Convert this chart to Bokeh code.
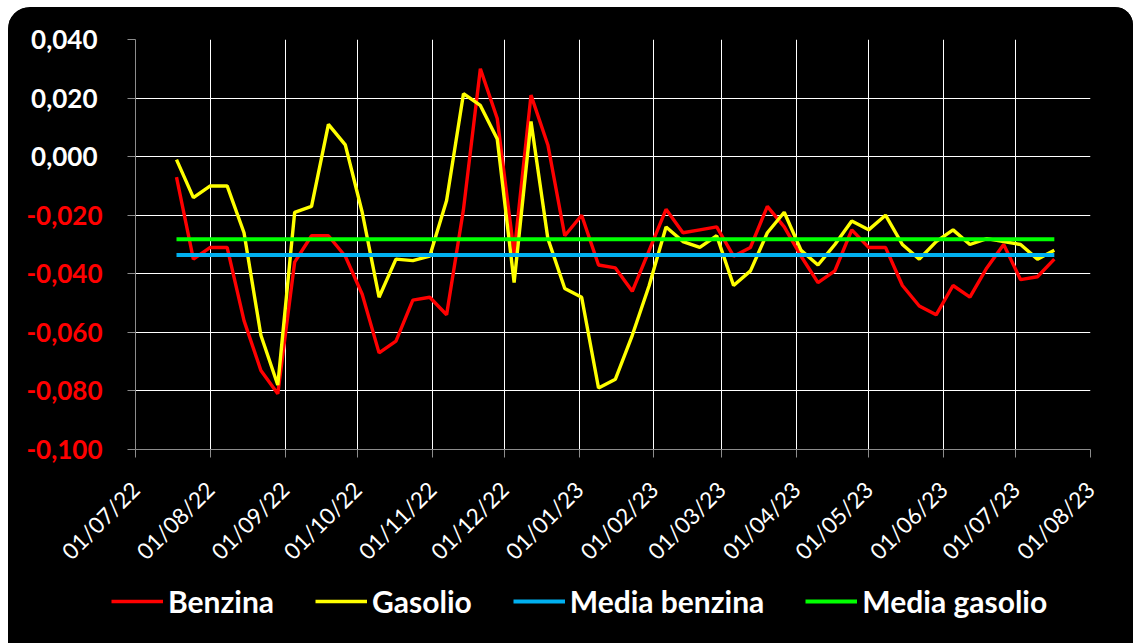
import pandas as pd
from bokeh.plotting import figure
from bokeh.layouts import column
from bokeh.models import (Range1d, FixedTicker, DatetimeTickFormatter, CustomJSTickFormatter,
                          Legend, LegendItem, LinearAxis)
from bokeh.embed import file_html
from bokeh.resources import INLINE
from math import pi

# ---------------- data ----------------
first_week = "2022-07-18"
n_weeks = 53
benzina = [-0.007, -0.035, -0.031, -0.031, -0.056, -0.073, -0.081, -0.036, -0.027, -0.027,
           -0.034, -0.047, -0.067, -0.063, -0.049, -0.048, -0.054, -0.018, 0.030, 0.013,
           -0.033, 0.021, 0.004, -0.027, -0.020, -0.037, -0.038, -0.046, -0.032, -0.018,
           -0.026, -0.025, -0.024, -0.034, -0.031, -0.017, -0.024, -0.034, -0.043, -0.039,
           -0.025, -0.031, -0.031, -0.044, -0.051, -0.054, -0.044, -0.048, -0.038, -0.030,
           -0.042, -0.041, -0.035]
gasolio = [-0.001, -0.014, -0.010, -0.010, -0.026, -0.061, -0.078, -0.019, -0.017, 0.011,
           0.004, -0.019, -0.048, -0.035, -0.0355, -0.034, -0.015, 0.0215, 0.0175, 0.006,
           -0.043, 0.012, -0.028, -0.045, -0.048, -0.079, -0.076, -0.061, -0.044, -0.024,
           -0.029, -0.031, -0.027, -0.044, -0.039, -0.026, -0.019, -0.032, -0.037, -0.030,
           -0.022, -0.025, -0.020, -0.030, -0.035, -0.029, -0.025, -0.030, -0.028, -0.029,
           -0.030, -0.035, -0.032]
media_benzina = -0.0336
media_gasolio = -0.0282

month_ticks = ["2022-07-01", "2022-08-01", "2022-09-01", "2022-10-01", "2022-11-01",
               "2022-12-01", "2023-01-01", "2023-02-01", "2023-03-01", "2023-04-01",
               "2023-05-01", "2023-06-01", "2023-07-01", "2023-08-01"]
y_ticks = [-0.100, -0.080, -0.060, -0.040, -0.020, 0.000, 0.020, 0.040]
y_tick_labels = ["-0,100", "-0,080", "-0,060", "-0,040", "-0,020", "0,000", "0,020", "0,040"]
series_names = ["Benzina", "Gasolio", "Media benzina", "Media gasolio"]
series_colors = ["#FF0000", "#FFFF00", "#00B0F0", "#00FF00"]
series_widths = [3.4, 3.4, 4, 4]

dates = pd.date_range(first_week, periods=n_weeks, freq="7D")
month_dt = pd.to_datetime(month_ticks)
month_ms = [int(t.value // 10**6) for t in month_dt]
series_x = [dates, dates, [dates[0], dates[-1]], [dates[0], dates[-1]]]
series_y = [benzina, gasolio, [media_benzina] * 2, [media_gasolio] * 2]

# ---------------- main figure ----------------
p = figure(width=1125, height=571,
           output_backend="svg", toolbar_location=None,
           x_axis_type="datetime",
           x_range=Range1d(month_dt[0], month_dt[-1]),
           y_range=Range1d(y_ticks[0], y_ticks[-1]),
           min_border_left=127, min_border_right=43, min_border_top=32, min_border_bottom=129)
p.background_fill_color = "black"
p.border_fill_color = "black"
p.outline_line_color = None

p.xgrid.grid_line_color = "white"
p.ygrid.grid_line_color = "white"

# x axis
xa = p.xaxis[0]
xa.ticker = FixedTicker(ticks=month_ms)
fmt = "%d/%m/%y"
xa.formatter = DatetimeTickFormatter(days=fmt, months=fmt, years=fmt)
xa.major_label_orientation = pi / 4
xa.major_label_text_color = "white"
xa.major_label_text_font = "Lato"
xa.major_label_text_font_size = "22.5px"
xa.major_label_standoff = 28
xa.axis_line_color = "#8c8c8c"
xa.major_tick_line_color = "#8c8c8c"
xa.major_tick_out = 8
xa.major_tick_in = 0
xa.minor_tick_line_color = None

# y axis (inner): ticks + red labels of negative values
label_code = """
const i = tvals.findIndex(t => Math.abs(t - tick) < 1e-9);
if (i < 0) return '';
return (neg ? tvals[i] < -1e-9 : tvals[i] >= -1e-9) ? tlabels[i] : '';
"""
ya = p.yaxis[0]
ya.ticker = FixedTicker(ticks=y_ticks)
ya.formatter = CustomJSTickFormatter(args=dict(tvals=y_ticks, tlabels=y_tick_labels, neg=True), code=label_code)
ya.axis_line_color = "#8c8c8c"
ya.major_tick_line_color = "#8c8c8c"
ya.major_tick_out = 8
ya.major_tick_in = 0
ya.minor_tick_line_color = None
ya.major_label_standoff = 25
ya.major_label_text_color = "#FF0000"
ya.major_label_text_font = "Lato"
ya.major_label_text_font_style = "bold"
ya.major_label_text_font_size = "26px"

# y axis (outer): white labels of non-negative values, shifted onto the same column
ya2 = LinearAxis(ticker=FixedTicker(ticks=y_ticks),
                 formatter=CustomJSTickFormatter(args=dict(tvals=y_ticks, tlabels=y_tick_labels, neg=False), code=label_code),
                 axis_line_color=None, major_tick_line_color=None, minor_tick_line_color=None,
                 major_tick_out=0, major_tick_in=0, major_label_standoff=-74,
                 major_label_text_color="white", major_label_text_font="Lato",
                 major_label_text_font_style="bold", major_label_text_font_size="26px")
p.add_layout(ya2, "left")

for xs, ys, c, w in zip(series_x, series_y, series_colors, series_widths):
    p.line(xs, ys, line_color=c, line_width=w)

# ---------------- legend strip ----------------
pl = figure(width=1125, height=65,
            output_backend="svg", toolbar_location=None,
            x_axis_type=None, y_axis_type=None,
            x_range=Range1d(month_dt[0], month_dt[-1]), y_range=Range1d(1, 2),
            min_border=0)
pl.background_fill_color = "black"
pl.border_fill_color = "black"
pl.outline_line_color = None
pl.styles = {"transform": "translateX(-24px)"}
leg_renderers = [pl.line(xs, ys, line_color=c, line_width=w)
                 for xs, ys, c, w in zip(series_x, series_y, series_colors, series_widths)]

legend = Legend(items=[LegendItem(label=n, renderers=[r]) for n, r in zip(series_names, leg_renderers)],
                orientation="horizontal", location=(0, 24),
                glyph_width=52, glyph_height=30, label_height=30, label_standoff=5, spacing=41,
                padding=0, margin=0, background_fill_alpha=0, border_line_color=None,
                label_text_color="white", label_text_font="Lato", label_text_font_style="bold",
                label_text_font_size="30px")
pl.add_layout(legend, "center")

layout = column(p, pl, spacing=0, margin=(7, 0, 0, 8),
                styles={"background-color": "black", "border-radius": "22px 18px 0 0",
                        "overflow": "hidden"})
open("out.html", "w").write(file_html(layout, INLINE))
